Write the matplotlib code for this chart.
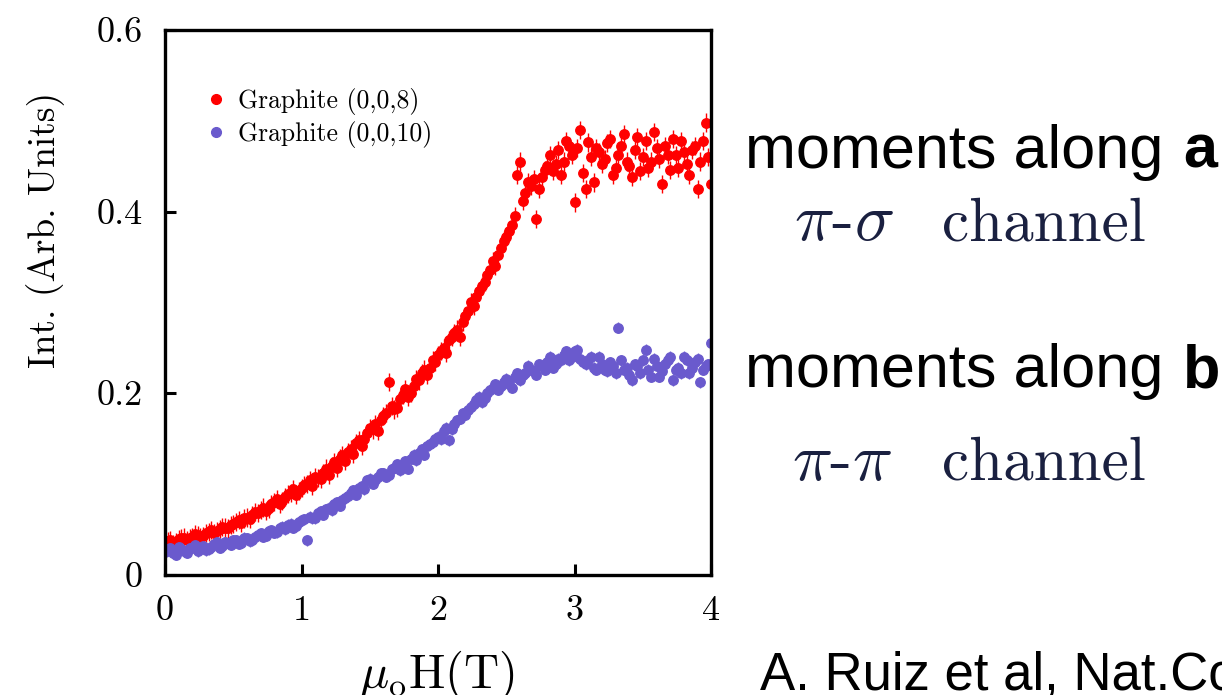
"""
Field dependence of the scattered intensity, two graphite analyser reflections
"""

import matplotlib
matplotlib.use("Agg")
import matplotlib.pyplot as plt
from matplotlib.lines import Line2D

plt.rcParams['mathtext.fontset'] = 'cm'
plt.rcParams['axes.formatter.use_mathtext'] = True

# Field sweep (T), two interleaved sets of points
FIELD_A = [0.00, 0.04, 0.08, 0.12, 0.16, 0.20, 0.24, 0.28, 0.32, 0.36,
           0.40, 0.44, 0.48, 0.52, 0.56, 0.60, 0.64, 0.68, 0.72, 0.76,
           0.80, 0.84, 0.88, 0.92, 0.96, 1.00, 1.04, 1.08, 1.12, 1.16,
           1.20, 1.24, 1.28, 1.32, 1.36, 1.40, 1.44, 1.48, 1.52, 1.56,
           1.60, 1.64, 1.68, 1.72, 1.76, 1.80, 1.84, 1.88, 1.92, 1.96,
           2.00, 2.04, 2.08, 2.12, 2.16, 2.20, 2.24, 2.28, 2.32, 2.36,
           2.40, 2.44, 2.48, 2.52, 2.56, 2.60, 2.64, 2.68, 2.72, 2.76,
           2.80, 2.84, 2.88, 2.92, 2.96, 3.00, 3.04, 3.08, 3.12, 3.16,
           3.20, 3.24, 3.28, 3.32, 3.36, 3.40, 3.44, 3.48, 3.52, 3.56,
           3.60, 3.64, 3.68, 3.72, 3.76, 3.80, 3.84, 3.88, 3.92, 3.96,
           4.00]
FIELD_B = [0.02, 0.06, 0.10, 0.14, 0.18, 0.22, 0.26, 0.30, 0.34, 0.38,
           0.42, 0.46, 0.50, 0.54, 0.58, 0.62, 0.66, 0.70, 0.74, 0.78,
           0.82, 0.86, 0.90, 0.94, 0.98, 1.02, 1.06, 1.10, 1.14, 1.18,
           1.22, 1.26, 1.30, 1.34, 1.38, 1.42, 1.46, 1.50, 1.54, 1.58,
           1.62, 1.66, 1.70, 1.74, 1.78, 1.82, 1.86, 1.90, 1.94, 1.98,
           2.02, 2.06, 2.10, 2.14, 2.18, 2.22, 2.26, 2.30, 2.34, 2.38,
           2.42, 2.46, 2.50, 2.54, 2.58, 2.62, 2.66, 2.70, 2.74, 2.78,
           2.82, 2.86, 2.90, 2.94, 2.98, 3.02, 3.06, 3.10, 3.14, 3.18,
           3.22, 3.26, 3.30, 3.34, 3.38, 3.42, 3.46, 3.50, 3.54, 3.58,
           3.62, 3.66, 3.70, 3.74, 3.78, 3.82, 3.86, 3.90, 3.94, 3.98]

# Graphite (0,0,8) -> pi-sigma channel
INT_008_A = [0.035, 0.038, 0.036, 0.040, 0.038, 0.042, 0.044, 0.043, 0.047, 0.046,
             0.050, 0.052, 0.055, 0.058, 0.057, 0.063, 0.066, 0.068, 0.074, 0.073,
             0.080, 0.078, 0.086, 0.090, 0.088, 0.096, 0.100, 0.098, 0.107, 0.112,
             0.110, 0.124, 0.128, 0.125, 0.138, 0.145, 0.142, 0.156, 0.160, 0.158,
             0.175, 0.212, 0.182, 0.194, 0.205, 0.200, 0.216, 0.222, 0.220, 0.236,
             0.242, 0.250, 0.258, 0.266, 0.262, 0.285, 0.300, 0.306, 0.318, 0.330,
             0.345, 0.352, 0.368, 0.378, 0.395, 0.455, 0.420, 0.428, 0.392, 0.438,
             0.450, 0.445, 0.468, 0.455, 0.472, 0.410, 0.490, 0.425, 0.460, 0.470,
             0.452, 0.475, 0.440, 0.462, 0.485, 0.450, 0.468, 0.445, 0.478, 0.455,
             0.470, 0.430, 0.462, 0.480, 0.448, 0.465, 0.440, 0.472, 0.455, 0.498,
             0.430]
INT_008_B = [0.037, 0.034, 0.039, 0.041, 0.040, 0.045, 0.042, 0.046, 0.049, 0.048,
             0.053, 0.051, 0.056, 0.060, 0.062, 0.061, 0.069, 0.071, 0.070, 0.078,
             0.083, 0.081, 0.089, 0.094, 0.092, 0.099, 0.104, 0.108, 0.106, 0.117,
             0.120, 0.118, 0.132, 0.135, 0.133, 0.148, 0.150, 0.162, 0.166, 0.170,
             0.178, 0.186, 0.184, 0.198, 0.196, 0.208, 0.214, 0.226, 0.228, 0.234,
             0.246, 0.244, 0.262, 0.270, 0.278, 0.290, 0.296, 0.312, 0.322, 0.336,
             0.340, 0.360, 0.372, 0.385, 0.440, 0.412, 0.432, 0.436, 0.425, 0.446,
             0.462, 0.452, 0.440, 0.478, 0.462, 0.470, 0.442, 0.476, 0.432, 0.465,
             0.458, 0.480, 0.448, 0.472, 0.455, 0.438, 0.482, 0.460, 0.448, 0.488,
             0.458, 0.472, 0.446, 0.462, 0.478, 0.452, 0.468, 0.425, 0.478, 0.460]

# Graphite (0,0,10) -> pi-pi channel
INT_0010_A = [0.025, 0.030, 0.022, 0.028, 0.024, 0.030, 0.026, 0.032, 0.028, 0.034,
              0.030, 0.036, 0.033, 0.038, 0.035, 0.040, 0.038, 0.044, 0.042, 0.048,
              0.046, 0.052, 0.050, 0.056, 0.054, 0.060, 0.038, 0.062, 0.068, 0.066,
              0.074, 0.078, 0.076, 0.085, 0.090, 0.088, 0.098, 0.104, 0.100, 0.108,
              0.112, 0.110, 0.118, 0.115, 0.125, 0.128, 0.126, 0.138, 0.142, 0.146,
              0.152, 0.158, 0.148, 0.166, 0.172, 0.176, 0.185, 0.192, 0.190, 0.200,
              0.206, 0.204, 0.212, 0.210, 0.218, 0.214, 0.222, 0.226, 0.220, 0.230,
              0.234, 0.228, 0.238, 0.242, 0.236, 0.246, 0.238, 0.232, 0.240, 0.226,
              0.232, 0.224, 0.230, 0.272, 0.226, 0.220, 0.232, 0.222, 0.248, 0.218,
              0.230, 0.224, 0.236, 0.214, 0.228, 0.240, 0.222, 0.234, 0.212, 0.230,
              0.255]
INT_0010_B = [0.028, 0.024, 0.031, 0.026, 0.029, 0.033, 0.029, 0.027, 0.031, 0.036,
              0.032, 0.035, 0.038, 0.034, 0.041, 0.037, 0.042, 0.046, 0.043, 0.049,
              0.047, 0.053, 0.055, 0.052, 0.058, 0.061, 0.064, 0.062, 0.070, 0.072,
              0.071, 0.080, 0.082, 0.087, 0.093, 0.096, 0.094, 0.106, 0.104, 0.112,
              0.108, 0.116, 0.122, 0.120, 0.117, 0.132, 0.134, 0.132, 0.144, 0.150,
              0.149, 0.162, 0.160, 0.170, 0.178, 0.181, 0.188, 0.196, 0.195, 0.203,
              0.210, 0.208, 0.216, 0.206, 0.222, 0.220, 0.230, 0.224, 0.232, 0.226,
              0.240, 0.232, 0.236, 0.246, 0.240, 0.248, 0.234, 0.236, 0.228, 0.240,
              0.226, 0.234, 0.222, 0.236, 0.228, 0.214, 0.230, 0.236, 0.226, 0.238,
              0.218, 0.232, 0.240, 0.226, 0.222, 0.236, 0.228, 0.238, 0.226, 0.232]

ERR_008 = 0.010
ERR_0010 = 0.006

LABELS = ["Graphite (0,0,8)", "Graphite (0,0,10)"]
X_TICKS = [0, 1, 2, 3, 4]
Y_TICKS = [0, 0.2, 0.4, 0.6]
Y_TICK_LABELS = ["0", "0.2", "0.4", "0.6"]

RED = "#ff0000"
BLUE = "#6a5acd"
NAVY = "#1a2040"
SERIF = "cmr10"
SANS = "Liberation Sans"


def px(x, y):
    """pixel position (from top-left) -> figure fraction"""
    return x / 1222, 1 - y / 695


def main():
    fig = plt.figure(figsize=(12.22, 6.95), dpi=100, facecolor='white')
    ax = fig.add_axes([0.135, 0.173, 0.447, 0.784])

    series = [(FIELD_A, INT_008_A, ERR_008, RED), (FIELD_B, INT_008_B, ERR_008, RED),
              (FIELD_A, INT_0010_A, ERR_0010, BLUE), (FIELD_B, INT_0010_B, ERR_0010, BLUE)]
    for x, y, err, color in series:
        ax.errorbar(x, y, yerr=err, fmt='o', ms=6.8, color=color,
                    mec=color, elinewidth=1.0, capsize=0, zorder=2)

    ax.set_xlim(0, 4)
    ax.set_ylim(0, 0.6)
    ax.set_xticks(X_TICKS)
    ax.set_xticklabels([str(t) for t in X_TICKS], fontfamily=SERIF, fontsize=26)
    ax.set_yticks(Y_TICKS)
    ax.set_yticklabels(Y_TICK_LABELS, fontfamily=SERIF, fontsize=26)
    ax.tick_params(direction='in', length=8, width=2.2)
    ax.tick_params(axis='y', pad=16)
    ax.tick_params(axis='x', pad=15)
    for sp in ax.spines.values():
        sp.set_linewidth(2.4)
        sp.set_zorder(3)

    fig.text(*px(46, 230), "Int. (Arb. Units)", fontfamily=SERIF, fontsize=27,
             rotation=90, ha='center', va='center')
    fig.text(*px(437, 688), r"$\mu_\mathrm{o}\mathrm{H(T)}$", fontsize=35,
             ha='center', va='baseline')

    handles = [Line2D([0], [0], marker='o', ls='none', color=RED, ms=7),
               Line2D([0], [0], marker='o', ls='none', color=BLUE, ms=7)]
    ax.legend(handles, LABELS, loc='upper left', bbox_to_anchor=(0.035, 0.935),
              frameon=False, prop={'family': SERIF, 'size': 18.5},
              handlelength=0.7, handletextpad=0.5, labelspacing=0.2)

    # annotations to the right of the panel
    fig.text(*px(745, 168), "moments along", fontfamily=SANS, fontsize=44,
             va='baseline', ha='left')
    fig.text(*px(1183, 168), "a", fontfamily=SANS, fontsize=44,
             fontweight='bold', va='baseline', ha='left')
    fig.text(*px(745, 387), "moments along", fontfamily=SANS, fontsize=44,
             va='baseline', ha='left')
    fig.text(*px(1183, 387), "b", fontfamily=SANS, fontsize=44,
             fontweight='bold', va='baseline', ha='left')

    fig.text(*px(794, 240), r"$\pi$-$\sigma$", fontfamily=SERIF, fontsize=48,
             color=NAVY, va='baseline', ha='left')
    fig.text(*px(942, 240), "channel", fontfamily=SERIF, fontsize=44,
             color=NAVY, va='baseline', ha='left')
    fig.text(*px(792, 480), r"$\pi$-$\pi$", fontfamily=SERIF, fontsize=48,
             color=NAVY, va='baseline', ha='left')
    fig.text(*px(942, 480), "channel", fontfamily=SERIF, fontsize=44,
             color=NAVY, va='baseline', ha='left')

    fig.text(*px(760, 690), "A. Ruiz et al, Nat.Commun.", fontfamily=SANS,
             fontsize=38, va='baseline', ha='left')

    fig.savefig("out.png", dpi=100, facecolor='white')
    plt.close(fig)


if __name__ == "__main__":
    main()
